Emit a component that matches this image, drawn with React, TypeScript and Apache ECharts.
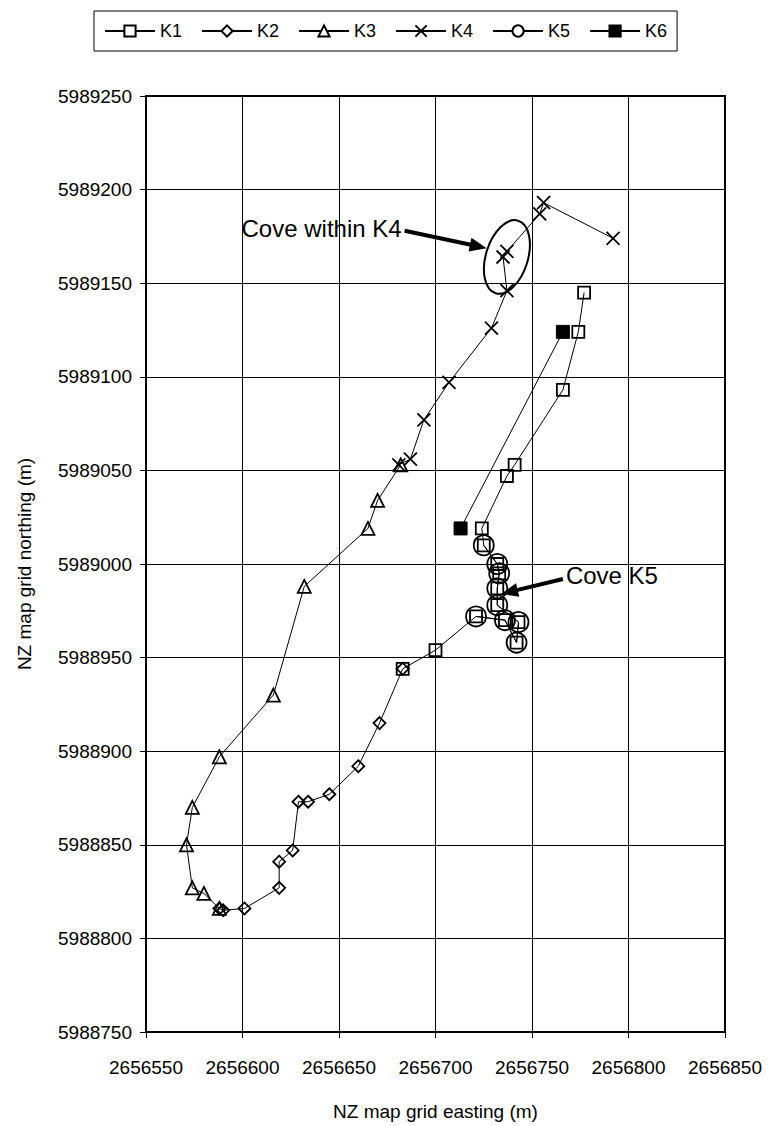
import React, { useEffect, useRef } from "react";
import * as echarts from "echarts";

// Tracks of kiwi K1–K6, NZ map grid easting / northing (m)
const k1East = [2656777, 2656774, 2656766, 2656741, 2656737, 2656724, 2656725, 2656732, 2656733, 2656732, 2656732, 2656743, 2656742, 2656736, 2656721, 2656700, 2656683];
const k1North = [5989145, 5989124, 5989093, 5989053, 5989047, 5989019, 5989010, 5989000, 5988995, 5988987, 5988978, 5988969, 5988958, 5988970, 5988972, 5988954, 5988944];

const k2East = [2656683, 2656671, 2656660, 2656645, 2656634, 2656629, 2656626, 2656619, 2656619, 2656601, 2656590, 2656588];
const k2North = [5988944, 5988915, 5988892, 5988877, 5988873, 5988873, 5988847, 5988841, 5988827, 5988816, 5988815, 5988816];

const k3East = [2656588, 2656580, 2656574, 2656571, 2656574, 2656588, 2656616, 2656632, 2656665, 2656670, 2656682];
const k3North = [5988816, 5988824, 5988827, 5988850, 5988870, 5988897, 5988930, 5988988, 5989019, 5989034, 5989053];

const k4East = [2656681, 2656687, 2656694, 2656707, 2656729, 2656737, 2656735, 2656737, 2656754, 2656756, 2656792];
const k4North = [5989053, 5989056, 5989077, 5989097, 5989126, 5989146, 5989164, 5989167, 5989187, 5989193, 5989174];

const k5East = [2656725, 2656732, 2656733, 2656732, 2656732, 2656743, 2656742, 2656736, 2656721];
const k5North = [5989010, 5989000, 5988995, 5988987, 5988978, 5988969, 5988958, 5988970, 5988972];

const k6East = [2656713, 2656766];
const k6North = [5989019, 5989124];

const seriesNames = ["K1", "K2", "K3", "K4", "K5", "K6"];

// Axis ranges (m)
const eastRange = [2656550, 2656850];
const northRange = [5988750, 5989250];
const gridStep = 50;

// Annotation anchors (map grid, m)
const coveK4Centre = [2656737, 5989164];
const coveK4ArrowTip = [2656726.5, 5989168.7];
const coveK4ArrowTail = [2656684, 5989178];
const coveK5ArrowTip = [2656734, 5988984];
const coveK5ArrowTail = [2656766, 5988992];
const coveK4Label = "Cove within K4";
const coveK5Label = "Cove K5";

const FONT = "'Liberation Sans', Arial, sans-serif";
const HOLLOW = "rgba(0,0,0,0)";
const CROSS = "path://M0,0L10,10M0,10L10,0";

const pairs = (e: number[], n: number[]) => e.map((v, i) => [v, n[i]]);
const plain = (v: number) => String(v);

function arrow(tail: number[], tip: number[]) {
  const dx = tip[0] - tail[0];
  const dy = tip[1] - tail[1];
  const len = Math.hypot(dx, dy);
  const ux = dx / len;
  const uy = dy / len;
  const headLen = 17;
  const headHalf = 7;
  const bx = tip[0] - ux * headLen;
  const by = tip[1] - uy * headLen;
  return [
    {
      type: "line",
      shape: { x1: tail[0], y1: tail[1], x2: bx + ux * 2, y2: by + uy * 2 },
      style: { stroke: "#000", lineWidth: 4 },
      z: 100,
    },
    {
      type: "polygon",
      shape: {
        points: [
          [tip[0], tip[1]],
          [bx - uy * headHalf, by + ux * headHalf],
          [bx + uy * headHalf, by - ux * headHalf],
        ],
      },
      style: { fill: "#000" },
      z: 100,
    },
  ];
}

export default function App() {
  const ref = useRef<HTMLDivElement>(null);

  useEffect(() => {
    document.body.style.margin = "0";
    const chart = echarts.init(ref.current!, null, { renderer: "svg" });

    const base = {
      type: "line",
      lineStyle: { color: "#000", width: 1 },
      animation: false,
      z: 3,
    };

    const series = [
      { ...base, name: "K1", data: pairs(k1East, k1North), symbol: "rect", symbolSize: 12, itemStyle: { color: HOLLOW, borderColor: "#000", borderWidth: 1.8 } },
      { ...base, name: "K2", data: pairs(k2East, k2North), symbol: "diamond", symbolSize: 12, itemStyle: { color: HOLLOW, borderColor: "#000", borderWidth: 1.8 } },
      { ...base, name: "K3", data: pairs(k3East, k3North), symbol: "triangle", symbolSize: 13, itemStyle: { color: HOLLOW, borderColor: "#000", borderWidth: 1.8 } },
      { ...base, name: "K4", data: pairs(k4East, k4North), symbol: CROSS, symbolSize: 13, itemStyle: { color: HOLLOW, borderColor: "#000", borderWidth: 1.8 } },
      { ...base, name: "K5", data: pairs(k5East, k5North), symbol: "circle", symbolSize: 20, itemStyle: { color: HOLLOW, borderColor: "#000", borderWidth: 1.8 } },
      { ...base, name: "K6", data: pairs(k6East, k6North), symbol: "rect", symbolSize: 13, itemStyle: { color: "#000", borderColor: "#000", borderWidth: 1 } },
    ];

    chart.setOption({
      animation: false,
      backgroundColor: "#fff",
      textStyle: { fontFamily: FONT, color: "#000" },
      legend: {
        left: 94,
        top: 11,
        padding: [11, 10],
        itemWidth: 50,
        itemHeight: 14,
        itemGap: 19,
        borderColor: "#000",
        borderWidth: 1,
        textStyle: { fontFamily: FONT, fontSize: 18, color: "#000" },
        data: seriesNames.map((name) => ({
          name,
          itemStyle: name === "K6" ? { color: "#000" } : { color: "#fff", borderColor: "#000" },
        })),
      },
      grid: {
        left: 146,
        right: 43,
        top: 96,
        bottom: 83,
        show: true,
        borderColor: "#000",
        borderWidth: 2,
        backgroundColor: "#fff",
      },
      xAxis: {
        type: "value",
        min: eastRange[0],
        max: eastRange[1],
        interval: gridStep,
        name: "NZ map grid easting (m)",
        nameLocation: "middle",
        nameGap: 70,
        nameTextStyle: { fontFamily: FONT, fontSize: 19, color: "#000" },
        axisLine: { show: true, onZero: false, lineStyle: { color: "#000", width: 2 } },
        axisTick: { show: true, inside: false, length: 6, lineStyle: { color: "#000", width: 1 } },
        axisLabel: { margin: 26, fontFamily: FONT, fontSize: 19, color: "#000", formatter: plain },
        splitLine: { show: true, lineStyle: { color: "#000", width: 1 } },
      },
      yAxis: {
        type: "value",
        min: northRange[0],
        max: northRange[1],
        interval: gridStep,
        name: "NZ map grid northing (m)",
        nameLocation: "middle",
        nameGap: 112,
        nameTextStyle: { fontFamily: FONT, fontSize: 19, color: "#000" },
        axisLine: { show: true, onZero: false, lineStyle: { color: "#000", width: 2 } },
        axisTick: { show: true, inside: false, length: 6, lineStyle: { color: "#000", width: 1 } },
        axisLabel: { margin: 14, fontFamily: FONT, fontSize: 19, color: "#000", formatter: plain },
        splitLine: { show: true, lineStyle: { color: "#000", width: 1 } },
      },
      series,
    });

    const px = (p: number[]) => chart.convertToPixel({ gridIndex: 0 }, p) as number[];
    const centre = px(coveK4Centre);
    const k4Tip = px(coveK4ArrowTip);
    const k4Tail = px(coveK4ArrowTail);
    const k5Tip = px(coveK5ArrowTip);
    const k5Tail = px(coveK5ArrowTail);

    chart.setOption({
      graphic: [
        {
          type: "ellipse",
          x: centre[0],
          y: centre[1],
          rotation: -0.3,
          shape: { cx: 0, cy: 0, rx: 21, ry: 38 },
          style: { fill: "none", stroke: "#000", lineWidth: 2 },
          z: 100,
        },
        ...arrow(k4Tail, k4Tip),
        ...arrow(k5Tail, k5Tip),
        {
          type: "text",
          x: k4Tail[0] - 3,
          y: k4Tail[1] - 2,
          style: {
            text: coveK4Label,
            fontFamily: FONT,
            fontSize: 24,
            fill: "#000",
            align: "right",
            verticalAlign: "middle",
          },
          z: 100,
        },
        {
          type: "text",
          x: k5Tail[0] + 3,
          y: k5Tail[1] - 3,
          style: {
            text: coveK5Label,
            fontFamily: FONT,
            fontSize: 24,
            fill: "#000",
            align: "left",
            verticalAlign: "middle",
          },
          z: 100,
        },
      ],
    });

    return () => chart.dispose();
  }, []);

  return <div ref={ref} style={{ width: 768, height: 1126 }} />;
}
